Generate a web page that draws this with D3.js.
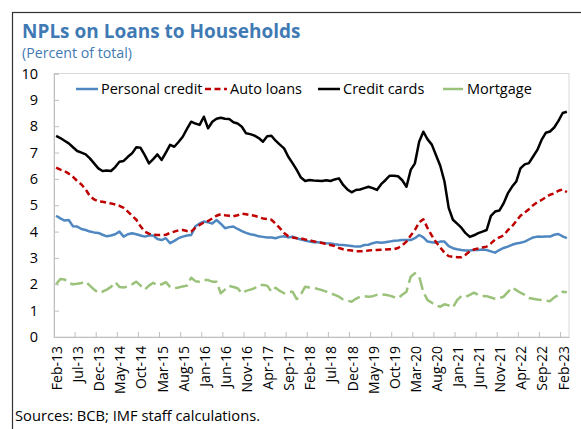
<!DOCTYPE html>
<html>
<head>
<meta charset="utf-8">
<script src="https://cdn.jsdelivr.net/npm/d3@7"></script>
<style>
  body { margin: 0; background: #fff; }
  text { font-family: "Open Sans", sans-serif; }
</style>
</head>
<body>
<div id="chart-container"></div>
<script>
// monthly NPL ratios, Feb-13 .. Mar-23 (percent of total)
const personalCredit = [
  4.6, 4.5, 4.42, 4.44, 4.2, 4.19, 4.1, 4.06, 4.0, 3.97,
  3.95, 3.88, 3.82, 3.85, 3.9, 4.0, 3.81, 3.9, 3.94, 3.9,
  3.85, 3.81, 3.85, 3.85, 3.72, 3.68, 3.75, 3.56, 3.65, 3.75,
  3.81, 3.85, 3.87, 4.2, 4.31, 4.38, 4.35, 4.31, 4.44, 4.3,
  4.13, 4.17, 4.19, 4.1, 4.02, 3.95, 3.9, 3.87, 3.82, 3.8,
  3.78, 3.78, 3.75, 3.8, 3.82, 3.78, 3.81, 3.75, 3.7, 3.66,
  3.62, 3.6, 3.6, 3.58, 3.56, 3.55, 3.52, 3.5, 3.49, 3.47,
  3.45, 3.43, 3.43, 3.49, 3.5, 3.56, 3.6, 3.58, 3.6, 3.62,
  3.65, 3.66, 3.68, 3.68, 3.68, 3.75, 3.87, 3.78, 3.62, 3.6,
  3.58, 3.62, 3.62, 3.45, 3.37, 3.33, 3.3, 3.28, 3.28, 3.3,
  3.3, 3.32, 3.3, 3.25, 3.2, 3.3, 3.38, 3.43, 3.5, 3.55,
  3.58, 3.62, 3.7, 3.78, 3.81, 3.8, 3.81, 3.81, 3.88, 3.91,
  3.82, 3.75
];
const autoLoans = [
  6.43, 6.35, 6.3, 6.2, 6.08, 5.92, 5.79, 5.6, 5.35, 5.22,
  5.15, 5.13, 5.1, 5.07, 5.03, 4.98, 4.9, 4.76, 4.6, 4.45,
  4.2, 4.0, 3.92, 3.88, 3.87, 3.87, 3.88, 3.95, 4.0, 4.05,
  4.06, 4.02, 4.0, 4.15, 4.25, 4.35, 4.4, 4.5, 4.6, 4.66,
  4.62, 4.6, 4.58, 4.62, 4.68, 4.66, 4.63, 4.6, 4.55, 4.5,
  4.48, 4.45, 4.3, 4.13, 3.95, 3.82, 3.78, 3.75, 3.74, 3.7,
  3.67, 3.63, 3.6, 3.57, 3.52, 3.49, 3.45, 3.38, 3.33, 3.3,
  3.28, 3.26, 3.25, 3.26, 3.28, 3.3, 3.3, 3.31, 3.32, 3.33,
  3.33, 3.38, 3.48, 3.62, 3.85, 4.06, 4.35, 4.47, 4.13, 3.85,
  3.6, 3.4, 3.2, 3.07, 3.04, 3.03, 3.03, 3.12, 3.25, 3.32,
  3.36, 3.4, 3.43, 3.55, 3.7, 3.78, 3.85, 4.05, 4.2, 4.4,
  4.6, 4.72, 4.85, 5.0, 5.12, 5.2, 5.3, 5.4, 5.45, 5.55,
  5.6, 5.5
];
const creditCards = [
  7.63, 7.55, 7.45, 7.35, 7.2, 7.06, 7.0, 6.93, 6.78, 6.59,
  6.4, 6.3, 6.32, 6.3, 6.45, 6.65, 6.68, 6.84, 6.97, 7.2,
  7.18, 6.9, 6.59, 6.75, 6.93, 6.72, 7.0, 7.29, 7.22, 7.4,
  7.6, 7.9, 8.17, 8.1, 8.05, 8.36, 7.92, 8.17, 8.28, 8.32,
  8.28, 8.27, 8.15, 8.1, 7.98, 7.73, 7.7, 7.64, 7.55, 7.41,
  7.62, 7.64, 7.45, 7.3, 7.16, 6.84, 6.6, 6.34, 6.05, 5.92,
  5.96, 5.94, 5.93, 5.92, 5.95, 5.92, 5.98, 6.02, 5.77, 5.6,
  5.49, 5.58, 5.6, 5.65, 5.7, 5.65, 5.58, 5.8, 5.95, 6.12,
  6.12, 6.1, 5.95, 5.7, 6.34, 6.59, 7.41, 7.79, 7.5, 7.3,
  6.9, 6.5, 5.9, 4.9, 4.45, 4.3, 4.15, 3.94, 3.8, 3.86,
  3.94, 4.0, 4.06, 4.6, 4.76, 4.8, 5.07, 5.45, 5.7, 5.9,
  6.4, 6.55, 6.6, 6.85, 7.1, 7.48, 7.75, 7.8, 7.95, 8.2,
  8.5, 8.55
];
const mortgage = [
  2.0, 2.2, 2.18, 2.05, 2.0, 2.02, 2.05, 2.1, 1.95, 1.8,
  1.68, 1.72, 1.8, 1.9, 2.08, 1.9, 1.88, 1.92, 2.0, 2.1,
  1.95, 1.8, 1.95, 2.06, 1.95, 2.0, 2.08, 1.9, 1.85, 1.88,
  1.92, 1.95, 2.25, 2.12, 2.1, 2.16, 2.16, 2.1, 2.1, 1.66,
  1.8, 1.94, 1.9, 1.85, 1.66, 1.75, 1.8, 1.85, 1.97, 1.97,
  1.95, 1.72, 1.87, 1.75, 1.66, 1.72, 1.72, 1.44, 1.62, 1.91,
  1.88, 1.87, 1.82, 1.78, 1.72, 1.66, 1.6, 1.53, 1.42, 1.38,
  1.34, 1.45, 1.53, 1.55, 1.53, 1.55, 1.6, 1.62, 1.6, 1.57,
  1.52, 1.47, 1.6, 1.72, 2.29, 2.42, 2.3, 1.7, 1.4, 1.3,
  1.2, 1.15, 1.24, 1.2, 1.12, 1.4, 1.55, 1.52, 1.6, 1.68,
  1.6, 1.56, 1.55, 1.5, 1.45, 1.48, 1.53, 1.7, 1.88, 1.78,
  1.68, 1.6, 1.48, 1.45, 1.42, 1.4, 1.38, 1.36, 1.5, 1.6,
  1.72, 1.7
];
const yTicks = [0, 1, 2, 3, 4, 5, 6, 7, 8, 9, 10];
const tickLabels = [
  "Feb-13", "Jul-13", "Dec-13", "May-14", "Oct-14", "Mar-15", "Aug-15",
  "Jan-16", "Jun-16", "Nov-16", "Apr-17", "Sep-17", "Feb-18", "Jul-18",
  "Dec-18", "May-19", "Oct-19", "Mar-20", "Aug-20", "Jan-21", "Jun-21",
  "Nov-21", "Apr-22", "Sep-22", "Feb-23"
];

const fmt = d3.timeFormat("%b-%y");
const months = d3.timeMonth.range(new Date(2013, 1, 1), new Date(2013, 1 + personalCredit.length, 1)).map(fmt);

const series = [
  { name: "Personal credit", values: personalCredit, color: "#4f88c0", dash: null, key: null },
  { name: "Auto loans", values: autoLoans, color: "#c00000", dash: "6,3.5", key: "6,3.5" },
  { name: "Credit cards", values: creditCards, color: "#000000", dash: null, key: null },
  { name: "Mortgage", values: mortgage, color: "#9bc27a", dash: "13,5", key: null }
];

const W = 581, H = 429;
const plot = { left: 54, right: 569, top: 73.5, bottom: 337 };

const svg = d3.select("#chart-container")
  .append("svg")
    .attr("width", W)
    .attr("height", H);

// outer frame
svg.append("rect")
  .attr("x", 12.5).attr("y", 12.5)
  .attr("width", 620).attr("height", 500)
  .attr("fill", "none")
  .attr("stroke", "#333")
  .attr("stroke-width", 1.2);

svg.append("text")
  .attr("x", 22).attr("y", 38)
  .attr("font-size", 19).attr("font-weight", 700)
  .attr("fill", "#3f7ab4")
  .text("NPLs on Loans to Households");

svg.append("text")
  .attr("x", 22).attr("y", 58)
  .attr("font-size", 14.2)
  .attr("fill", "#3f7ab4")
  .text("(Percent of total)");

const x = d3.scaleBand()
  .domain(months)
  .range([plot.left, plot.right]);

const y = d3.scaleLinear()
  .domain([0, 10])
  .range([plot.bottom, plot.top]);

// plot frame
svg.append("rect")
  .attr("x", plot.left).attr("y", plot.top)
  .attr("width", plot.right - plot.left)
  .attr("height", plot.bottom - plot.top)
  .attr("fill", "none")
  .attr("stroke", "#d9d9d9");

// y axis
const yAxis = svg.append("g")
  .attr("transform", "translate(" + plot.left + ",0)")
  .call(d3.axisLeft(y).tickValues(yTicks).tickSize(-5).tickPadding(16));
yAxis.select(".domain").attr("stroke", "#bfbfbf");
yAxis.selectAll(".tick line").attr("stroke", "#bfbfbf");
yAxis.selectAll("text")
  .attr("font-family", "Open Sans, sans-serif")
  .attr("font-size", 14.5)
  .attr("fill", "#000");

// x axis: labels at category centres, tick marks on category edges
const xAxis = svg.append("g")
  .attr("transform", "translate(0," + plot.bottom + ")")
  .call(d3.axisBottom(x).tickValues(tickLabels).tickSize(0));
xAxis.select(".domain").attr("stroke", "#bfbfbf");
xAxis.selectAll("text")
  .attr("font-family", "Open Sans, sans-serif")
  .attr("font-size", 14)
  .attr("fill", "#000")
  .attr("text-anchor", "end")
  .attr("transform", "rotate(-90)")
  .attr("x", -9)
  .attr("y", 1)
  .attr("dy", "0.35em");

svg.append("g")
  .selectAll("line")
  .data(tickLabels.slice(1))
  .enter()
  .append("line")
    .attr("x1", d => x(d)).attr("x2", d => x(d))
    .attr("y1", plot.bottom).attr("y2", plot.bottom - 5)
    .attr("stroke", "#bfbfbf");

// lines
const line = d3.line()
  .x((d, i) => x(months[i]) + x.bandwidth() / 2)
  .y(d => y(d));

const drawOrder = [series[3], series[0], series[1], series[2]];
svg.append("g")
  .selectAll("path")
  .data(drawOrder)
  .enter()
  .append("path")
    .attr("d", d => line(d.values))
    .attr("fill", "none")
    .attr("stroke", d => d.color)
    .attr("stroke-width", 2.5)
    .attr("stroke-dasharray", d => d.dash)
    .attr("stroke-linejoin", "round");

// legend
const legendX = [76, 205, 318, 443];
const legend = svg.append("g")
  .selectAll("g")
  .data(series)
  .enter()
  .append("g")
    .attr("transform", (d, i) => "translate(" + legendX[i] + ",89)");
legend.append("line")
  .attr("x1", 0).attr("x2", (d, i) => i === 3 ? 20 : 22)
  .attr("stroke", d => d.color)
  .attr("stroke-width", 2.5)
  .attr("stroke-dasharray", d => d.key);
legend.append("text")
  .attr("x", (d, i) => i === 3 ? 24 : 25)
  .attr("dy", "0.35em")
  .attr("font-size", 14.5)
  .attr("fill", "#000")
  .text(d => d.name);

svg.append("text")
  .attr("x", 15).attr("y", 421)
  .attr("font-size", 14.7)
  .attr("fill", "#000")
  .text("Sources: BCB; IMF staff calculations.");
</script>
</body>
</html>
